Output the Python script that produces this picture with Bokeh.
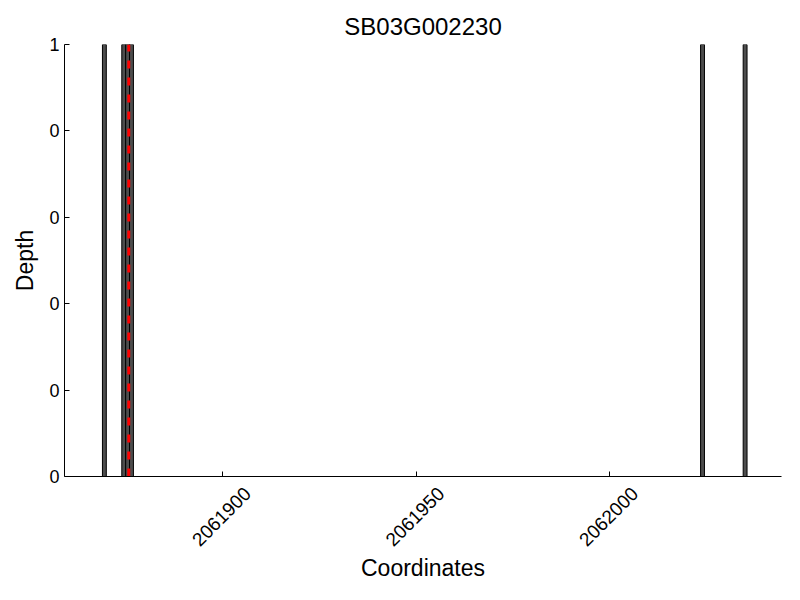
import math
from bokeh.plotting import figure
from bokeh.models import (Range1d, FixedTicker, PrintfTickFormatter, BasicTickFormatter,
                          ColumnDataSource, LinearAxis, CustomLabelingPolicy)
from bokeh.embed import file_html
from bokeh.resources import INLINE

# Data
title_text = "SB03G002230"
bar_positions = [2061869.5, 2061874.5, 2061875.5, 2061876.5, 2062024.0, 2062035.0]
bar_depths = [1, 1, 1, 1, 1, 1]
snp_position = 2061875.8
x_ticks = [2061900, 2061950, 2062000]
y_ticks = [0, 0.2, 0.4, 0.6, 0.8, 1.0]
x_min, x_max = 2061859.2, 2062044.4
y_min, y_max = 0, 1
label_shift = 6.5  # shift (in data units) so rotated labels are centred on ticks

FONT = "Liberation Sans"

p = figure(
    frame_width=717, frame_height=432,
    min_border_left=64, min_border_top=44, min_border_right=3, min_border_bottom=100,
    x_range=Range1d(x_min, x_max), y_range=Range1d(y_min, y_max),
    output_backend="svg", toolbar_location=None,
    title=title_text,
)
p.title.text_font = FONT
p.title.text_font_size = "24px"
p.title.text_font_style = "normal"
p.title.align = "center"
p.title.text_color = "black"

src = ColumnDataSource(dict(x=bar_positions, top=bar_depths))
p.vbar(x="x", top="top", bottom=0, width=1, source=src,
       fill_color="#4d4d4d", line_color="black", line_width=1)

p.segment(x0=[snp_position], y0=[y_min], x1=[snp_position], y1=[y_max],
          line_color="red", line_width=3, line_dash="8 9")

p.xgrid.visible = False
p.ygrid.visible = False
p.outline_line_color = None

for ax in (p.xaxis[0], p.yaxis[0]):
    ax.axis_line_color = "black"
    ax.axis_line_width = 1
    ax.major_tick_in = 5
    ax.major_tick_out = 0
    ax.minor_tick_line_color = None
    ax.major_tick_line_color = "black"
    ax.major_label_text_font = FONT
    ax.major_label_text_font_size = "18px"
    ax.major_label_text_color = "black"
    ax.axis_label_text_font = FONT
    ax.axis_label_text_font_size = "23px"
    ax.axis_label_text_font_style = "normal"
    ax.axis_label_text_color = "black"

# primary x axis: line and ticks only (labels filtered out)
p.xaxis.ticker = FixedTicker(ticks=x_ticks)
p.xaxis.major_label_policy = CustomLabelingPolicy(
    code="for (const i of indices) { indices.unset(i) } return indices")
p.xaxis.major_label_standoff = 0

# label axis: rotated tick labels centred on ticks, plus axis title
p.extra_x_ranges = {"labels": Range1d(x_min - label_shift, x_max - label_shift)}
lab = LinearAxis(x_range_name="labels", ticker=FixedTicker(ticks=x_ticks),
                 formatter=BasicTickFormatter(use_scientific=False))
lab.axis_line_color = None
lab.major_tick_line_color = None
lab.minor_tick_line_color = None
lab.major_tick_in = 0
lab.major_tick_out = 0
lab.major_label_orientation = math.pi / 4
lab.major_label_text_font = FONT
lab.major_label_text_font_size = "19px"
lab.major_label_text_color = "black"
lab.major_label_standoff = -2
lab.axis_label = "Coordinates"
lab.axis_label_text_font = FONT
lab.axis_label_text_font_size = "23px"
lab.axis_label_text_font_style = "normal"
lab.axis_label_text_color = "black"
lab.axis_label_standoff = 0
p.add_layout(lab, "below")

p.yaxis.ticker = FixedTicker(ticks=y_ticks)
p.yaxis.formatter = PrintfTickFormatter(format="%d")
p.yaxis.axis_label = "Depth"
p.yaxis.major_label_standoff = 5
p.yaxis.axis_label_standoff = 8

open("out.html", "w").write(file_html(p, INLINE))
